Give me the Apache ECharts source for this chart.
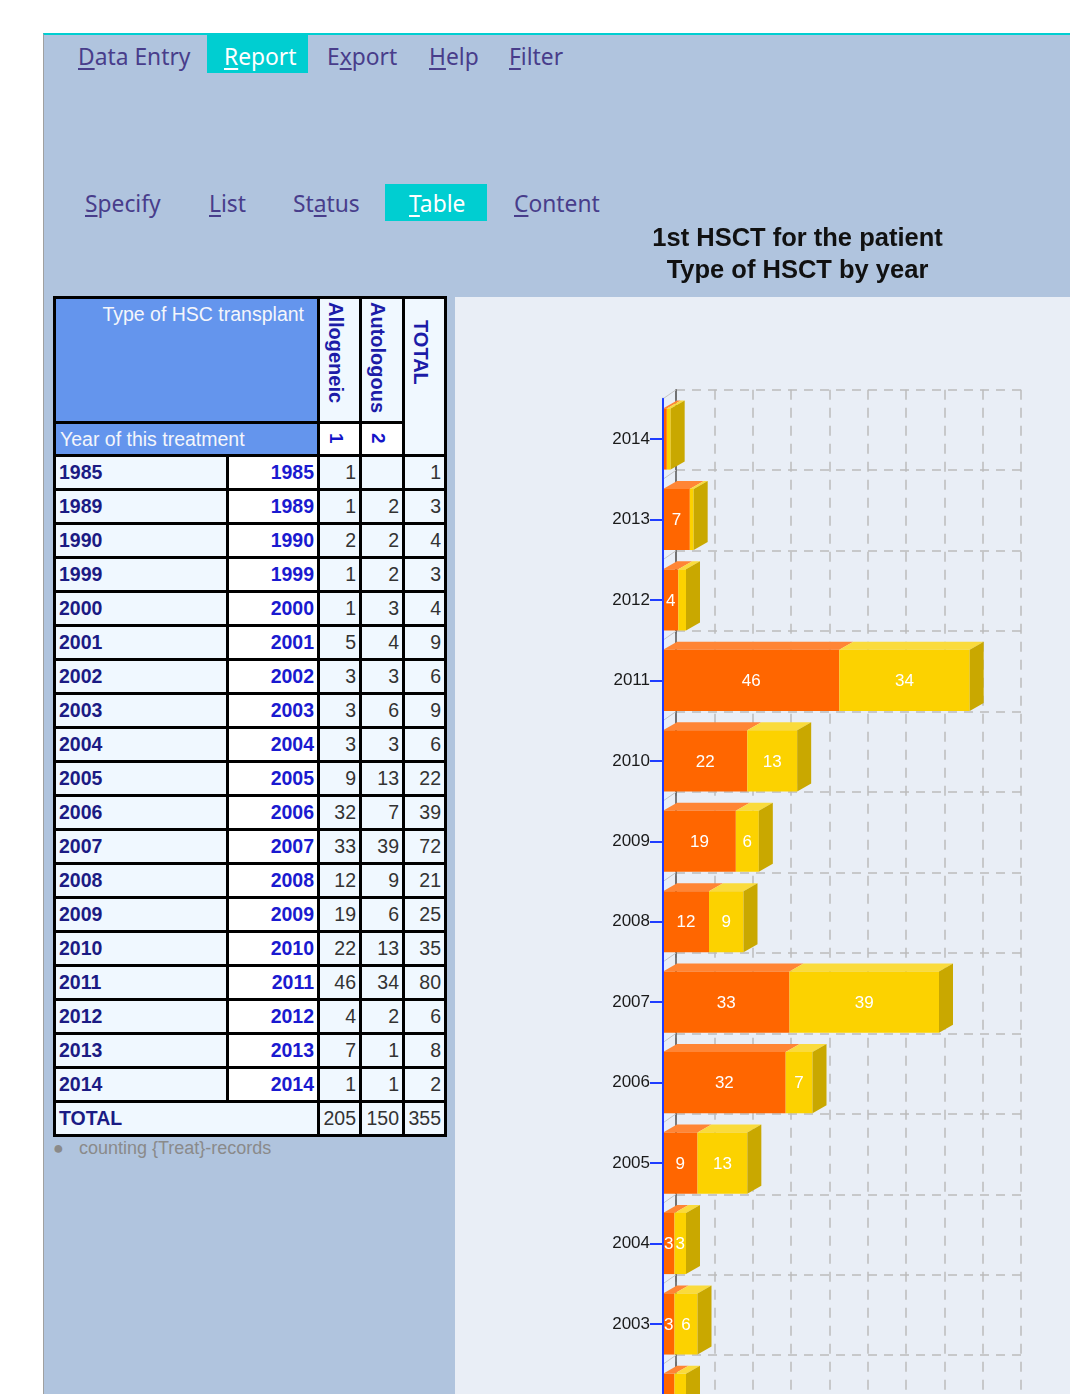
<!DOCTYPE html>
<html>
<head>
<meta charset="utf-8">
<script src="https://cdn.jsdelivr.net/npm/echarts@6/dist/echarts.min.js"></script>
<style>
html, body { margin:0; padding:0; width:1070px; height:1394px; overflow:hidden; background:#fff; }
#page { position:absolute; left:43px; top:33px; width:1027px; height:1361px; background:#B0C4DE;
        border-left:1.5px solid #a0a0a0; border-top:2px solid #00CED1; box-sizing:border-box; }
.menu { position:absolute; font-family:"Noto Sans", sans-serif; font-size:22.8px; line-height:30px; color:#483D8B; white-space:nowrap; }
.menu u { text-decoration-thickness:1.5px; text-underline-offset:3px; }
.sel { position:absolute; background:#00CED1; }
.menu.on { color:#fff; }
#tbl { position:absolute; left:53px; top:296px; width:394px; table-layout:fixed; border-collapse:separate; border-spacing:3px;
       background:#000; font-family:"Liberation Sans", Arial, sans-serif; }
#tbl td { padding:0; overflow:hidden; white-space:nowrap; }
#tbl .hdr { background:#6495ED; color:#f4f6fb; font-size:19.5px; text-align:right; vertical-align:top; padding-right:13px; padding-top:4px; height:118px; line-height:22px; }
#tbl .hdr2 { background:#6495ED; color:#f4f6fb; font-size:19.5px; text-align:left; padding-left:4px; height:30px; line-height:30px; }
#tbl .vh { background:#F0F8FF; vertical-align:top; text-align:left; padding-left:5px; }
#tbl .vh div, #tbl .code div { writing-mode:vertical-rl; display:inline-block; font-weight:bold; font-size:20px; line-height:22px; color:#1c1ca8; }
#tbl .vh div { padding-top:3px; }
#tbl .tot { padding-top:18px; }
#tbl .code { background:#fff; text-align:left; padding-left:5px; height:30px; }
#tbl .code div { color:#1414c8; font-size:19px; }
#tbl .yl { background:#F0F8FF; color:#1b1b84; font-weight:bold; font-size:19.5px; padding-left:3px; height:31px; line-height:31px; }
#tbl .yc { background:#fff; color:#1a1ad0; font-weight:bold; font-size:19.5px; text-align:right; padding-right:3px; line-height:31px; }
#tbl .v { background:#F0F8FF; color:#333; font-size:19.5px; text-align:right; padding-right:3px; line-height:31px; }
#note { position:absolute; left:53px; top:1136px; font-family:"Liberation Sans", Arial, sans-serif; font-size:18px; line-height:24px; color:#8a8a8a; white-space:nowrap; }
#panel { position:absolute; left:455px; top:297px; width:615px; height:1097px; background:#E9EEF6; }
#chart { position:absolute; left:455px; top:200px; width:615px; height:1760px; }
</style>
</head>
<body>
<div id="page"></div>

<div class="sel" style="left:207px; top:34px; width:101px; height:39px;"></div>
<div class="menu" style="left:78px; top:42px;"><u>D</u>ata Entry</div>
<div class="menu on" style="left:224px; top:42px;"><u>R</u>eport</div>
<div class="menu" style="left:327px; top:42px;">E<u>x</u>port</div>
<div class="menu" style="left:429px; top:42px;"><u>H</u>elp</div>
<div class="menu" style="left:509px; top:42px;"><u>F</u>ilter</div>

<div class="sel" style="left:385px; top:184px; width:102px; height:37px;"></div>
<div class="menu" style="left:85px; top:189px;"><u>S</u>pecify</div>
<div class="menu" style="left:209px; top:189px;"><u>L</u>ist</div>
<div class="menu" style="left:293px; top:189px;">St<u>a</u>tus</div>
<div class="menu on" style="left:409px; top:189px;"><u>T</u>able</div>
<div class="menu" style="left:514px; top:189px;"><u>C</u>ontent</div>

<div id="tblwrap"></div>
<div id="note">&#9679;&nbsp;&nbsp;&nbsp;counting {Treat}-records</div>

<div id="panel"></div>
<div id="chart"></div>

<script>
// ---------- data ----------
const years = ['1985','1989','1990','1999','2000','2001','2002','2003','2004','2005','2006','2007','2008','2009','2010','2011','2012','2013','2014'];
const allogeneic = [1, 1, 2, 1, 1, 5, 3, 3, 3, 9, 32, 33, 12, 19, 22, 46, 4, 7, 1];
const autologous = [null, 2, 2, 2, 3, 4, 3, 6, 3, 13, 7, 39, 9, 6, 13, 34, 2, 1, 1];
const seriesNames = ['Allogeneic', 'Autologous'];
const seriesCodes = ['1', '2'];
const valueMin = 0, valueMax = 90, valueStep = 10;
const titleLines = ['1st HSCT for the patient', 'Type of HSCT by year'];

// ---------- table ----------
(function buildTable() {
  const n = v => (v === null || v === undefined) ? 0 : v;
  let h = '<table id="tbl"><colgroup><col style="width:170px"><col style="width:88px"><col style="width:39px"><col style="width:40px"><col style="width:39px"></colgroup>';
  h += '<tr><td class="hdr" colspan="2">Type of HSC transplant</td>' +
       '<td class="vh"><div>' + seriesNames[0] + '</div></td>' +
       '<td class="vh"><div>' + seriesNames[1] + '</div></td>' +
       '<td class="vh tot" rowspan="2"><div>TOTAL</div></td></tr>';
  h += '<tr><td class="hdr2" colspan="2">Year of this treatment</td>' +
       '<td class="code"><div>' + seriesCodes[0] + '</div></td>' +
       '<td class="code"><div>' + seriesCodes[1] + '</div></td></tr>';
  let sa = 0, sb = 0;
  years.forEach((y, i) => {
    const a = allogeneic[i], b = autologous[i];
    sa += n(a); sb += n(b);
    h += '<tr><td class="yl">' + y + '</td><td class="yc">' + y + '</td>' +
         '<td class="v">' + (a == null ? '' : a) + '</td>' +
         '<td class="v">' + (b == null ? '' : b) + '</td>' +
         '<td class="v">' + (n(a) + n(b)) + '</td></tr>';
  });
  h += '<tr><td class="yl" colspan="2">TOTAL</td><td class="v">' + sa + '</td><td class="v">' + sb + '</td><td class="v">' + (sa + sb) + '</td></tr>';
  h += '</table>';
  document.getElementById('tblwrap').innerHTML = h;
})();

// ---------- chart ----------
const chart = echarts.init(document.getElementById('chart'), null, { renderer: 'canvas' });
const DX = 14, DY = -8;      // bar depth
const GDX = 13, GDY = -9;    // back-plane offset
const frontLeft = 208, frontTop = 198.8, gridW = 345, bandPx = 80.45;
const gridH = years.length * bandPx;
const BAR_RATIO = 0.76;
const FONT = '"Liberation Sans", Arial, sans-serif';

const colors = {
  Allogeneic: { front: '#FF6600', top: '#FF8535', side: '#C85000' },
  Autologous: { front: '#FCD200', top: '#FADB3C', side: '#C9A800' }
};

function barRender(name) {
  const c = colors[name];
  return function (params, api) {
    const v = api.value(0);
    if (!v) return null;
    const cat = api.value(1);
    const base = api.value(2);
    const last = api.value(3);
    const p0 = api.coord([base, cat]);
    const p1 = api.coord([base + v, cat]);
    const band = api.size([0, 1])[1];
    const h = band * BAR_RATIO;
    const x0 = p0[0], x1 = p1[0];
    const yT = p0[1] - h / 2, yB = p0[1] + h / 2;
    const children = [];
    children.push({ type: 'polygon', shape: { points: [[x0, yT], [x1, yT], [x1 + DX, yT + DY], [x0 + DX, yT + DY]] },
      style: { fill: c.top } });
    children.push({ type: 'rect', shape: { x: x0, y: yT, width: x1 - x0, height: h }, style: { fill: c.front } });
    if (last) {
      children.push({ type: 'polygon', shape: { points: [[x1, yT], [x1 + DX, yT + DY], [x1 + DX, yB + DY], [x1, yB]] },
        style: { fill: c.side } });
    }
    if (v >= 3) {
      children.push({ type: 'text', style: { text: String(v), x: (x0 + x1) / 2, y: p0[1] + 1, align: 'center', verticalAlign: 'middle',
        fill: '#ffffff', font: '17px ' + FONT } });
    }
    return { type: 'group', children: children };
  };
}

const alloData = years.map((y, i) => [allogeneic[i], y, 0, autologous[i] ? 0 : 1]);
const autoData = years.map((y, i) => [autologous[i] || 0, y, allogeneic[i] || 0, 1]);
const dims = [{ name: 'value', type: 'number' }, { name: 'year', type: 'ordinal' }, { name: 'base', type: 'number' }, { name: 'last', type: 'number' }];

const option = {
  backgroundColor: 'transparent',
  animation: false,
  title: {
    text: titleLines.join('\n'),
    left: 342.5, top: 23, textAlign: 'center', padding: 0,
    textStyle: { fontFamily: FONT, fontSize: 25.5, fontWeight: 'bold', color: '#111', lineHeight: 32 }
  },
  grid: [
    { left: frontLeft + GDX, top: frontTop + GDY, width: gridW, height: gridH, outerBoundsMode: 'none' },
    { left: frontLeft, top: frontTop, width: gridW, height: gridH, outerBoundsMode: 'none' }
  ],
  xAxis: [
    { gridIndex: 0, type: 'value', min: valueMin, max: valueMax, interval: valueStep,
      axisLine: { show: false }, axisTick: { show: false }, axisLabel: { show: false },
      splitLine: { show: true, lineStyle: { color: '#bcbcbc', width: 1.5, type: [10, 8] } } },
    { gridIndex: 1, type: 'value', min: valueMin, max: valueMax, interval: valueStep, show: false }
  ],
  yAxis: [
    { gridIndex: 0, type: 'category', data: years, boundaryGap: true,
      axisLine: { show: true, lineStyle: { color: '#555', width: 1.5 } },
      axisTick: { show: false }, axisLabel: { show: false },
      splitLine: { show: true, interval: 0, lineStyle: { color: '#bcbcbc', width: 1.5, type: [9, 7] } } },
    { gridIndex: 1, type: 'category', data: years, boundaryGap: true, z: 10,
      axisLine: { show: true, lineStyle: { color: '#1f3dff', width: 2 } },
      axisTick: { show: true, alignWithLabel: true, interval: 0, length: 13, lineStyle: { color: '#1f3dff', width: 2 } },
      axisLabel: { interval: 0, margin: 13, fontSize: 17, color: '#1a1a1a', fontFamily: FONT },
      splitLine: { show: false } }
  ],
  series: [
    { type: 'custom', name: 'floor', xAxisIndex: 1, yAxisIndex: 1, silent: true, z: 1,
      dimensions: [{ name: 'x', type: 'number' }, { name: 'year', type: 'ordinal' }],
      encode: { x: 0, y: 1 },
      data: years.map(y => [0, y]),
      renderItem: function (params, api) {
        const p = api.coord([0, api.value(1)]);
        const band = api.size([0, 1])[1];
        const yTop = p[1] - band / 2;
        return { type: 'line', shape: { x1: p[0], y1: yTop, x2: p[0] + GDX, y2: yTop + GDY },
          style: { stroke: '#c4c4c4', lineWidth: 1 } };
      } },
    { type: 'custom', name: seriesNames[0], xAxisIndex: 1, yAxisIndex: 1, z: 2,
      dimensions: dims, encode: { x: 0, y: 1 }, data: alloData, renderItem: barRender('Allogeneic') },
    { type: 'custom', name: seriesNames[1], xAxisIndex: 1, yAxisIndex: 1, z: 3,
      dimensions: dims, encode: { x: 0, y: 1 }, data: autoData, renderItem: barRender('Autologous') }
  ]
};
chart.setOption(option);
</script>
</body>
</html>
